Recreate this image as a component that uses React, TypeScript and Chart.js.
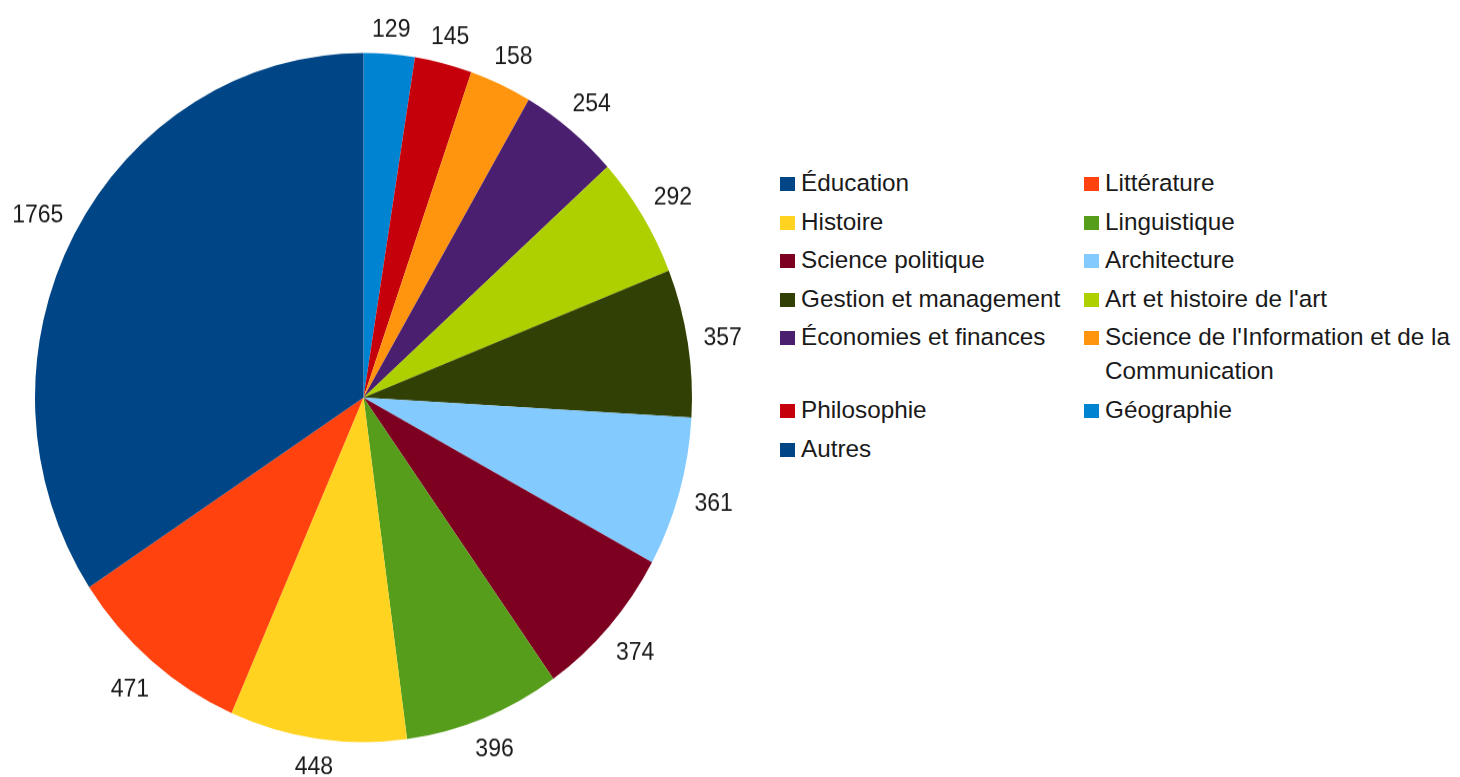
import React, { useEffect, useRef } from 'react';
import { Chart, registerables } from 'chart.js';

Chart.register(...registerables);

const categories: string[] = [
  'Éducation',
  'Littérature',
  'Histoire',
  'Linguistique',
  'Science politique',
  'Architecture',
  'Gestion et management',
  "Art et histoire de l'art",
  'Économies et finances',
  "Science de l'Information et de la Communication",
  'Philosophie',
  'Géographie',
  'Autres',
];

const values: number[] = [1765, 471, 448, 396, 374, 361, 357, 292, 254, 158, 145, 129, 0];

const colors: string[] = [
  '#004586',
  '#ff420e',
  '#ffd320',
  '#579d1c',
  '#7e0021',
  '#83caff',
  '#314004',
  '#aecf00',
  '#4b1f6f',
  '#ff950e',
  '#c5000b',
  '#0084d1',
  '#004586',
];

const STRETCH = 1.049;
const LABEL_FONT_SIZE = 23;
const LABEL_GAP = 15;
const TEXT_COLOR = '#1a1a1a';
const FONT = '"Liberation Sans", Arial, sans-serif';

const outsideLabels = {
  id: 'outsideLabels',
  afterDatasetsDraw(chart: any) {
    const ctx: CanvasRenderingContext2D = chart.ctx;
    const meta = chart.getDatasetMeta(0);
    const data = chart.data.datasets[0].data as number[];
    ctx.save();
    ctx.font = `${LABEL_FONT_SIZE}px ${FONT}`;
    ctx.fillStyle = TEXT_COLOR;
    ctx.textAlign = 'center';
    ctx.textBaseline = 'alphabetic';
    meta.data.forEach((arc: any, i: number) => {
      const v = data[i];
      if (!v) return;
      const { x, y, startAngle, endAngle, outerRadius } = arc.getProps(
        ['x', 'y', 'startAngle', 'endAngle', 'outerRadius'],
        true
      );
      const mid = (startAngle + endAngle) / 2;
      const c = Math.cos(mid);
      const s = Math.sin(mid);
      const text = String(v);
      const w = ctx.measureText(text).width;
      const h = LABEL_FONT_SIZE * 0.716;
      const d = outerRadius + LABEL_GAP + (Math.abs(c) * w) / 2 + (Math.abs(s) * h) / 2;
      ctx.fillText(text, x + c * d, y + s * d + h / 2);
    });
    ctx.restore();
  },
};

export default function App() {
  const ref = useRef<HTMLCanvasElement>(null);

  useEffect(() => {
    if (!ref.current) return;
    // Reference draws slices counter-clockwise; Chart.js draws clockwise, so reverse.
    const revLabels = [...categories].reverse();
    const revValues = [...values].reverse();
    const revColors = [...colors].reverse();
    const chart = new Chart(ref.current, {
      type: 'pie',
      data: {
        labels: revLabels,
        datasets: [
          {
            data: revValues,
            backgroundColor: revColors,
            borderWidth: 0,
          },
        ],
      },
      options: {
        responsive: false,
        animation: false,
        events: [],
        layout: {
          padding: { left: 35, right: 68, top: 50.5, bottom: 37.5 },
        },
        plugins: {
          legend: { display: false },
          tooltip: { enabled: false },
        },
      },
      plugins: [outsideLabels],
    });
    return () => chart.destroy();
  }, []);

  const col1Left = 780;
  const col2Left = 1084;

  return (
    <div
      style={{
        position: 'fixed',
        left: 0,
        top: 0,
        width: 1460,
        height: 777,
        overflow: 'hidden',
        background: '#ffffff',
      }}
    >
      <canvas
        ref={ref}
        width={760}
        height={745}
        style={{
          position: 'absolute',
          left: 0,
          top: 0,
          transform: `scaleY(${STRETCH})`,
          transformOrigin: '0 0',
        }}
      />
      <div
        style={{
          position: 'absolute',
          left: col1Left,
          top: 166,
          display: 'grid',
          gridTemplateColumns: `${col2Left - col1Left}px 370px`,
          rowGap: 4.6,
          fontFamily: FONT,
          fontSize: 24.3,
          lineHeight: '34px',
          color: TEXT_COLOR,
        }}
      >
        {categories.map((name, i) => (
          <div key={name} style={{ display: 'flex', alignItems: 'flex-start' }}>
            <span
              style={{
                display: 'inline-block',
                width: 15,
                height: 14,
                marginTop: 11,
                marginRight: 6,
                flex: '0 0 auto',
                background: colors[i],
              }}
            />
            <span style={{ maxWidth: 352, whiteSpace: 'normal' }}>{name}</span>
          </div>
        ))}
      </div>
    </div>
  );
}
